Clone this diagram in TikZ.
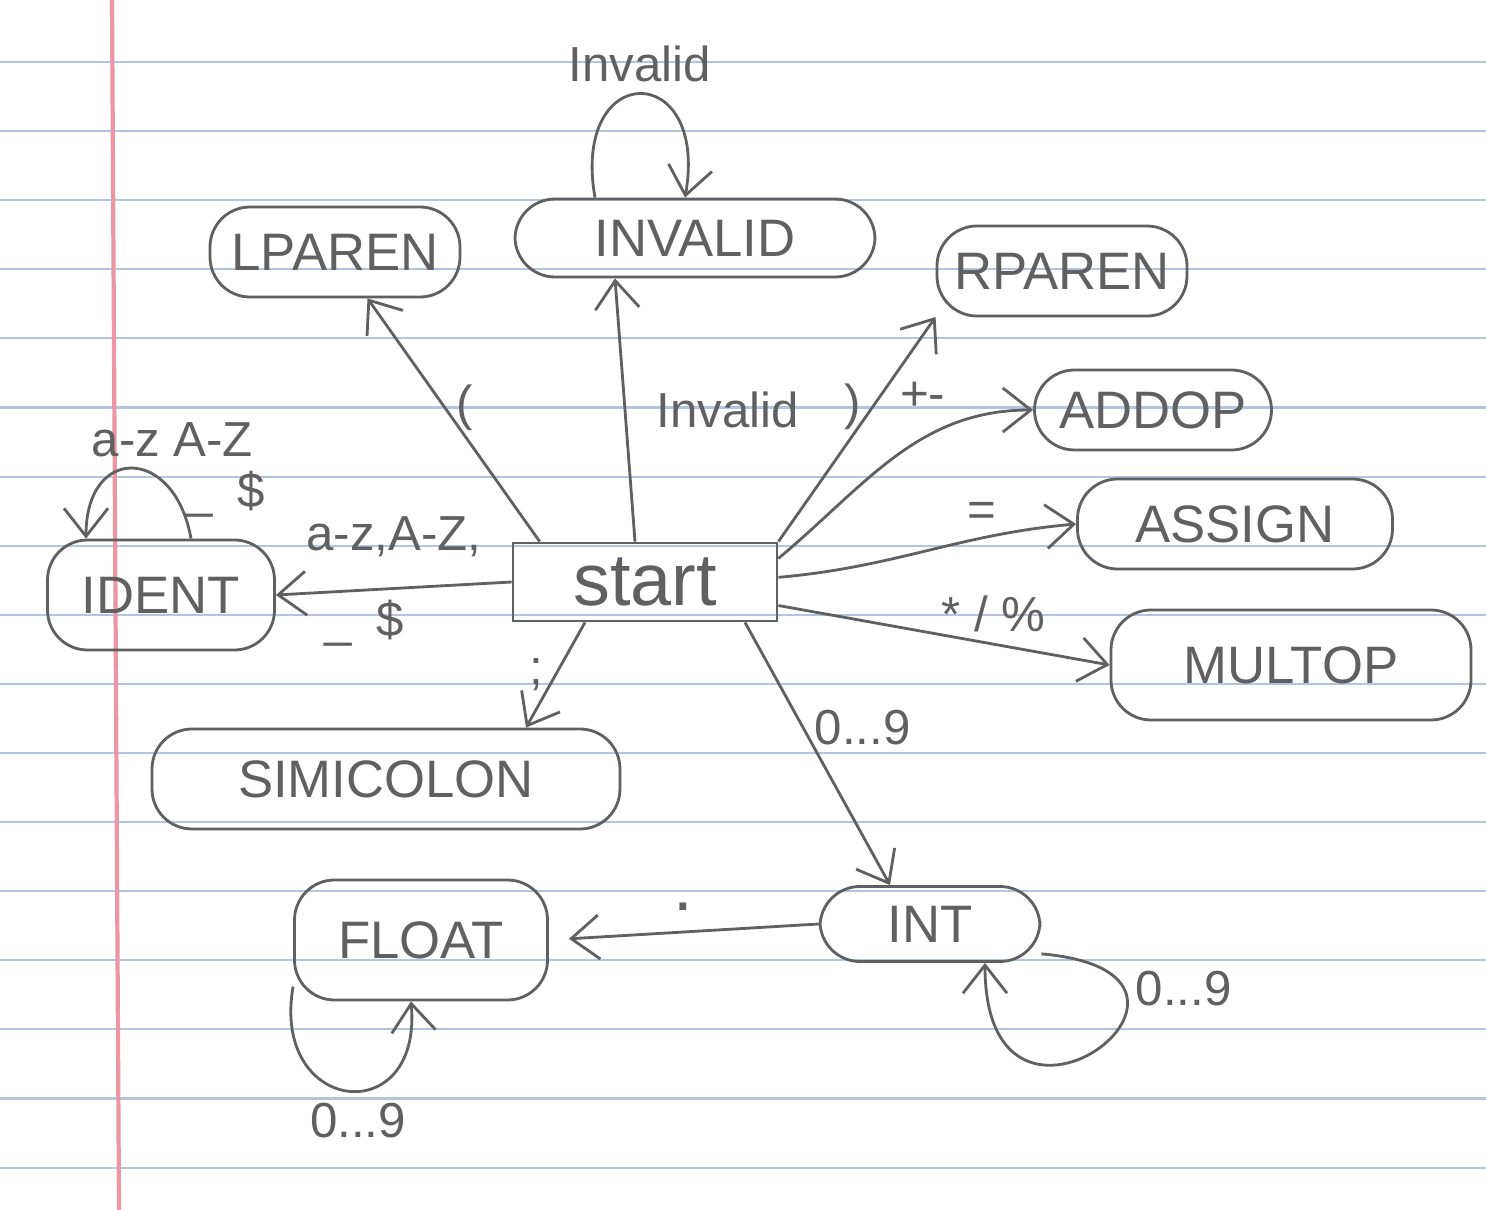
\documentclass[tikz,border=0pt]{standalone}
\usepackage{fontspec}
\setmainfont{Liberation Sans}
\usetikzlibrary{arrows.meta}
\definecolor{pencil}{RGB}{96,96,96}
\definecolor{ruling}{RGB}{178,196,222}
\definecolor{marginred}{RGB}{236,150,165}

\begin{document}
\begin{tikzpicture}[->, >={Straight Barb[length=2.8mm,width=4.4mm]}, thick, pencil,
    main/.style={draw, rectangle, rounded corners=4mm, inner sep=2pt, font=\fontsize{15}{18}\selectfont},
    startbox/.style={draw, rectangle, minimum width=2.64cm, minimum height=0.78cm, font=\fontsize{21}{24}\selectfont},
    lbl/.style={midway, inner sep=3pt, font=\fontsize{14}{16}\selectfont}]

    % ruled paper
    \useasboundingbox (0,0) rectangle (14.86,-12.10);
    \fill[white] (0,0) rectangle (14.86,-12.10);
    \foreach \k in {0,...,16}
        \draw[-, ruling, line width=0.6pt] (0,-0.62-0.691*\k) -- (14.86,-0.62-0.691*\k);
    \draw[-, marginred, line width=1.2pt] (1.12,0) -- (1.19,-12.10);

    \node[startbox] (start) at (6.45,-5.82) {start};
    \node[main, minimum width=2.5cm, minimum height=0.9cm] (lparen) at (3.35,-2.52) {LPAREN};
    \node[main, minimum width=3.6cm, minimum height=0.78cm] (invalid) at (6.95,-2.38) {INVALID};
    \node[main, minimum width=2.5cm, minimum height=0.9cm] (rparen) at (10.62,-2.71) {RPAREN};
    \node[main, minimum width=2.37cm, minimum height=0.8cm] (addop) at (11.53,-4.10) {ADDOP};
    \node[main, minimum width=3.15cm, minimum height=0.9cm] (assign) at (12.35,-5.24) {ASSIGN};
    \node[main, minimum width=3.6cm, minimum height=1.1cm] (multop) at (12.91,-6.65) {MULTOP};
    \node[main, minimum width=2.27cm, minimum height=1.1cm] (ident) at (1.61,-5.95) {IDENT};
    \node[main, minimum width=4.68cm, minimum height=1.0cm] (semi) at (3.86,-7.79) {SIMICOLON};
    \node[main, minimum width=2.53cm, minimum height=1.2cm] (float) at (4.21,-9.40) {FLOAT};
    \node[main, minimum width=2.2cm, minimum height=0.75cm] (int) at (9.30,-9.24) {INT};

    \path
        (start.159) edge node[lbl, right, pos=0.55] {(} (lparen.-55)
        ([xshift=-1mm]start.north) edge node[lbl, right, xshift=2mm] {Invalid} ([xshift=-8mm]invalid.south)
        (start.north east) edge node[lbl, left, pos=0.6] {)} (rparen.200)
        (start.10) edge[out=40, in=180] node[lbl, above left, pos=0.75] {+-} (addop.west)
        (start.2) edge[out=5, in=185] node[lbl, above, pos=0.7] {=} (assign.west)
        (start.-10) edge node[lbl, above, pos=0.65] {* / \%} (multop.west)
        (start.west) edge node[lbl, above, yshift=2mm] {a-z,A-Z,} node[lbl, below, xshift=-3mm] {\_\enspace\$} (ident.east)
        ([xshift=-6mm]start.south) edge node[lbl, left] {;} ([xshift=14mm]semi.north)
        ([xshift=10mm]start.south) edge node[lbl, right, pos=0.4] {0...9} ([xshift=-4mm]int.north)
        (int.west) edge[shorten >=2mm] node[lbl, above, yshift=1mm, font=\fontsize{20}{20}\selectfont] {.} (float.east)
        ;

    % self loops
    \path
        (int.-15) edge[out=-5, in=-90, looseness=10] node[lbl, right, pos=0.22] {0...9} ([xshift=5.5mm]int.south)
        (float.200) edge[out=-100, in=-85, looseness=2.8] node[lbl, below, pos=0.55] {0...9} ([xshift=-1mm]float.south)
        ([xshift=3mm]ident.north) edge[out=100, in=90, looseness=2.3] node[lbl, above, xshift=4mm] {a-z A-Z} node[lbl, right, pos=0.2] {\_\enspace\$} ([xshift=-7.5mm]ident.north)
        ([xshift=-10mm]invalid.north) edge[out=100, in=80, looseness=4] node[lbl, above] {Invalid} ([xshift=-1mm]invalid.north)
        ;
\end{tikzpicture}
\end{document}
